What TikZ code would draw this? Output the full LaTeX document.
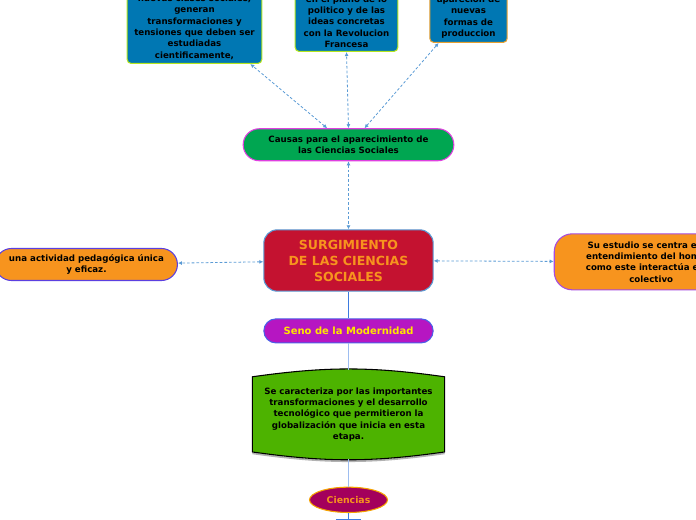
\documentclass[tikz,border=0pt]{standalone}
\usepackage{fontspec}
\setmainfont{DejaVu Sans}
\usepackage{xcolor}
\usetikzlibrary{shapes.geometric, arrows.meta, positioning, backgrounds}

\definecolor{topblue}{HTML}{0077B3}
\definecolor{limeedge}{HTML}{B6E61E}
\definecolor{amberedge}{HTML}{E8A030}
\definecolor{causegreen}{HTML}{00A651}
\definecolor{pinkedge}{HTML}{E040E0}
\definecolor{surgred}{HTML}{C41230}
\definecolor{surgedge}{HTML}{5B9BD5}
\definecolor{titleorange}{HTML}{F7941E}
\definecolor{leftedge}{HTML}{5B3FE0}
\definecolor{rightedge}{HTML}{A54BE0}
\definecolor{senopurple}{HTML}{B616C2}
\definecolor{senoedge}{HTML}{4A5FE8}
\definecolor{senotext}{HTML}{FFE600}
\definecolor{cylgreen}{HTML}{4DB300}
\definecolor{cienfill}{HTML}{A3005C}
\definecolor{cienedge}{HTML}{F5A300}
\definecolor{linkblue}{HTML}{5B9BD5}
\definecolor{stemblue}{HTML}{3D7BE0}
\definecolor{paleblue}{HTML}{9DBDF0}

\begin{document}
\begin{tikzpicture}[
    x=0.75pt, y=-0.75pt,
    small/.style={font=\fontsize{6.5}{8.5}\selectfont\bfseries},
    topbox/.style={rectangle, fill=topblue, line width=0.8pt, rounded corners=3pt, align=center, anchor=south, inner sep=3pt, small},
    causebox/.style={rectangle, fill=causegreen, draw=pinkedge, line width=0.8pt, rounded corners=12pt, minimum width=158pt, minimum height=24pt, align=center, small},
    mainbox/.style={rectangle, fill=surgred, draw=surgedge, line width=0.8pt, rounded corners=10pt, minimum width=127pt, minimum height=46pt, align=center, text=titleorange, font=\fontsize{9.4}{12}\selectfont\bfseries},
    sidebox/.style={rectangle, fill=titleorange, line width=0.8pt, align=center, small},
    senobox/.style={rectangle, fill=senopurple, draw=senoedge, line width=0.8pt, rounded corners=9pt, minimum width=127pt, minimum height=18pt, text=senotext, font=\fontsize{7.5}{9}\selectfont\bfseries},
    barrel/.style={fill=cylgreen, draw=black, line width=0.8pt},
    cienbox/.style={ellipse, fill=cienfill, draw=cienedge, line width=0.8pt, minimum width=58.5pt, minimum height=19pt, inner sep=0pt, text=titleorange, font=\fontsize{7}{8}\selectfont\bfseries},
    link/.style={{Latex[length=3pt,width=3pt]}-{Latex[length=3pt,width=3pt]}, draw=linkblue, line width=0.6pt, dash pattern=on 2pt off 1.5pt},
    stem/.style={line width=0.8pt}
]
\useasboundingbox (0,0) rectangle (696,520);

% Main topic
\node[mainbox] (surg) at (348.5,260.5) {SURGIMIENTO\\DE LAS CIENCIAS\\SOCIALES};

% Causes
\node[causebox, above=51pt of surg] (causas) {Causas para el aparecimiento de\\las Ciencias Sociales};

\node[topbox, draw=limeedge, minimum width=101pt] (clases) at (194.5,64) {nuevas clases sociales,\\generan\\transformaciones y\\tensiones que deben ser\\estudiadas\\cientificamente,};
\node[topbox, draw=limeedge, minimum width=77pt] (plano) at (346.5,52) {en el plano de lo\\politico y de las\\ideas concretas\\con la Revolucion\\Francesa};
\node[topbox, draw=amberedge, minimum width=58pt] (formas) at (468.5,43) {aparecion de\\nuevas\\formas de\\produccion};

% Side branches
\node[sidebox, draw=leftedge, rounded corners=12pt, minimum width=136.5pt, minimum height=24pt, left=64pt of surg, yshift=-3pt] (pedag) {una actividad pedagógica única\\y eficaz.};
\node[sidebox, draw=rightedge, rounded corners=13.5pt, minimum width=145.5pt, minimum height=42pt, right=90pt of surg, yshift=-1pt] (estudio) {Su estudio se centra en el\\entendimiento del hombre\\como este interactúa en lo\\colectivo};

% Vertical chain
\node[senobox, below=20pt of surg] (seno) {Seno de la Modernidad};
\node[rectangle, minimum width=139pt, minimum height=56pt, text width=137pt, align=center, small, below=25pt of seno] (cyl) {Se caracteriza por las importantes\\transformaciones y el desarrollo\\tecnológico que permitieron la\\globalización que inicia en esta\\etapa.};
\node[cienbox, below=26pt of cyl] (ciencias) {Ciencias};

\begin{scope}[on background layer]
  \draw[black!30, line width=1.4pt] ([yshift=-1pt]cyl.south east) to[bend left=8] ([yshift=-1pt]cyl.south west);
  \draw[barrel] (cyl.north west) to[bend left=8] (cyl.north east) -- (cyl.south east) to[bend left=8] (cyl.south west) -- cycle;
\end{scope}

\coordinate (fork) at ([yshift=-5pt]ciencias.south);
\coordinate (forkL) at ([xshift=-9.5pt]fork);
\coordinate (forkR) at ([xshift=9.5pt]fork);

% Connectors
\draw[link] ([xshift=-16pt]causas.north) -- ([xshift=-9pt]clases.south east);
\draw[link] (causas.north) -- (plano.south);
\draw[link] ([xshift=12pt]causas.north) -- ([xshift=7pt]formas.south west);
\draw[link] (causas) -- (surg);
\draw[link] (surg) -- (pedag);
\draw[link] (surg) -- (estudio);

\draw[stem, stemblue] (surg) -- (seno);
\draw[stem, paleblue] (seno) -- ([yshift=5pt]cyl.north);
\draw[stem, paleblue] ([yshift=-5pt]cyl.south) -- (ciencias);
\draw[stem, stemblue] (ciencias) -- (fork);
\draw[stem, stemblue] (forkL) -- (forkR);

\end{tikzpicture}
\end{document}
